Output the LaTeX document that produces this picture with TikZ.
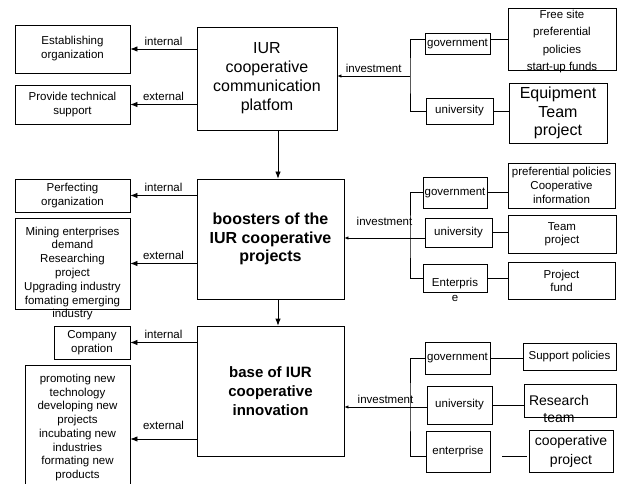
\documentclass[tikz,border=0pt]{standalone}
\usepackage{fontspec}
\setmainfont{Liberation Sans}
\usetikzlibrary{arrows.meta}
\begin{document}
\begin{tikzpicture}[x=1pt,y=-1pt,line width=0.8pt]
    \tikzstyle{box}=[draw, rectangle, inner sep=1pt, align=center, font=\fontsize{11.5}{14}\selectfont]
    \tikzstyle{bigbox}=[box, font=\fontsize{16}{19}\selectfont]
    \tikzstyle{hubbox}=[box, font=\fontsize{16}{18.5}\selectfont\bfseries]
    \tikzstyle{txt}=[align=center, inner sep=0pt]
    \tikzstyle{arr}=[-{Latex[length=7pt,width=5.5pt]}]
    \tikzstyle{inv}=[-{Latex[length=4pt,width=3.5pt]}]
    \tikzstyle{lbl}=[font=\fontsize{11.5}{13}\selectfont, above]
    \useasboundingbox (0,0) rectangle (622,484);

    % centre column
    \node[bigbox, minimum width=140pt, minimum height=103pt] (plat) at (267,78.5) {IUR\\cooperative\\communication\\platfom};
    \node[hubbox, minimum width=147pt, minimum height=120pt] (boost) at (270.5,239) {boosters of the\\IUR cooperative\\projects};
    \node[hubbox, font=\fontsize{15}{19}\selectfont\bfseries, minimum width=147pt, minimum height=130pt] (base) at (270.5,391) {base of IUR\\cooperative\\innovation};
    \coordinate (axis) at (278,160);
    \draw[arr] (plat.south -| axis) -- (boost.north -| axis);
    \draw[arr] (boost.south -| axis) -- (base.north -| axis);

    % left column
    \node[box, minimum width=115pt, minimum height=48pt] (est) at (72.5,49) {Establishing\\organization};
    \node[box, minimum width=115pt, minimum height=39pt] (prov) at (72.5,104.5) {Provide technical\\support};
    \node[box, minimum width=115pt, minimum height=33pt] (perf) at (72.5,195.5) {Perfecting\\organization};
    \node[box, minimum width=115pt, minimum height=91pt] (mine) at (72.5,263.5) {};
    \node[txt, font=\fontsize{11.5}{13.8}\selectfont] (minetxt) at (72.5,273.5) {Mining enterprises\\demand\\Researching\\project\\Upgrading industry\\fomating emerging\\industry};
    \node[box, minimum width=76pt, minimum height=33pt] (comp) at (92,342.5) {Company\\opration};
    \node[box, font=\fontsize{11.5}{13.7}\selectfont, minimum width=105pt, minimum height=125pt] (prom) at (77.5,427.5) {promoting new\\technology\\developing new\\projects\\incubating new\\industries\\formating new\\products};
    \coordinate (ext3) at (160,439);

    \draw[arr] (plat.west |- est.east) -- (est.east) node[lbl, midway] {internal};
    \draw[arr] (plat.west |- prov.east) -- (prov.east) node[lbl, midway] {external};
    \draw[arr] (boost.west |- perf.east) -- (perf.east) node[lbl, midway] {internal};
    \draw[arr] (boost.west |- mine.east) -- (mine.east) node[lbl, midway] {external};
    \draw[arr] (base.west |- comp.east) -- (comp.east) node[lbl, midway] {internal};
    \draw[arr] (base.west |- ext3) -- (prom.east |- ext3) node[lbl, midway, yshift=6pt] {external};

    % right side, platform
    \node[box, minimum width=65pt, minimum height=21pt] (gov1) at (457.5,43.5) {government};
    \node[box, minimum width=67pt, minimum height=26pt] (uni1) at (459.5,111) {university};
    \node[box, minimum width=108pt, minimum height=62pt] (free) at (562,39) {};
    \node[txt, font=\fontsize{11.5}{17.5}\selectfont] (freetxt) at (562,41.5) {Free site\\preferential\\policies\\start-up funds};
    \node[bigbox, font=\fontsize{16}{18.5}\selectfont, minimum width=98pt, minimum height=60pt] (equip) at (558,113) {Equipment\\Team\\project};
    \coordinate (bus1) at (410,76);
    \draw (gov1.west |- free.west) -| (bus1) |- (uni1.west);
    \draw[inv] (bus1) -- (plat.east |- bus1) node[lbl, midway] {investment};
    \draw (free.west) -- (free.west -| gov1.east);
    \draw (uni1.east) -- (uni1.east -| equip.west);

    % right side, boosters
    \node[box, minimum width=64pt, minimum height=31pt] (gov2) at (455,192.5) {government};
    \node[box, minimum width=67pt, minimum height=29pt] (uni2) at (458.5,232.5) {university};
    \node[box, minimum width=64pt, minimum height=28pt] (ent2) at (455,278) {};
    \node[txt, font=\fontsize{11.5}{15}\selectfont] (ent2txt) at (455,289.5) {Enterpris\\e};
    \node[box, minimum width=107pt, minimum height=45pt] (pref) at (561.5,185.5) {preferential policies\\Cooperative\\information};
    \node[box, font=\fontsize{11.5}{13}\selectfont, minimum width=108pt, minimum height=38pt] (team) at (562,234) {Team\\project};
    \node[box, font=\fontsize{11.5}{13}\selectfont, minimum width=107pt, minimum height=37pt] (fund) at (561.5,280.5) {Project\\fund};
    \coordinate (bus2) at (410,238);
    \draw (gov2.west) -| (bus2) |- (ent2.west);
    \draw[inv] (uni2.west |- bus2) -- (boost.east |- bus2) node[lbl, midway, yshift=9pt] {investment};
    \draw (gov2.east) -- (gov2.east -| pref.west);
    \draw (uni2.east) -- (uni2.east -| team.west);
    \draw (ent2.east) -- (ent2.east -| fund.west);

    % right side, base
    \node[box, minimum width=65pt, minimum height=32pt] (gov3) at (457.5,358) {government};
    \node[box, minimum width=65pt, minimum height=38pt] (uni3) at (459.5,405) {university};
    \node[box, minimum width=64pt, minimum height=41pt] (ent3) at (458,451.5) {enterprise};
    \node[box, minimum width=93pt, minimum height=27pt] (sup) at (569.5,356.5) {Support policies};
    \node[box, minimum width=92pt, minimum height=33pt] (rt) at (570,400.5) {};
    \node[txt, font=\fontsize{14}{17}\selectfont] (rttxt) at (559,408.5) {Research\\team};
    \node[box, font=\fontsize{14}{19}\selectfont, minimum width=84pt, minimum height=42pt] (coop) at (571,451) {cooperative\\project};
    \coordinate (bus3) at (410,407);
    \draw (gov3.west) -| (bus3) |- ([yshift=-4.5pt]ent3.west);
    \draw[inv] (uni3.west |- bus3) -- (base.east |- bus3) node[lbl, midway] {investment};
    \draw (gov3.east) -- (gov3.east -| sup.west);
    \draw (uni3.east) -- (uni3.east -| rt.west);
    \draw ([xshift=12pt,yshift=-4.5pt]ent3.east) -- ([xshift=-2pt,yshift=-5pt]coop.west);
\end{tikzpicture}
\end{document}
